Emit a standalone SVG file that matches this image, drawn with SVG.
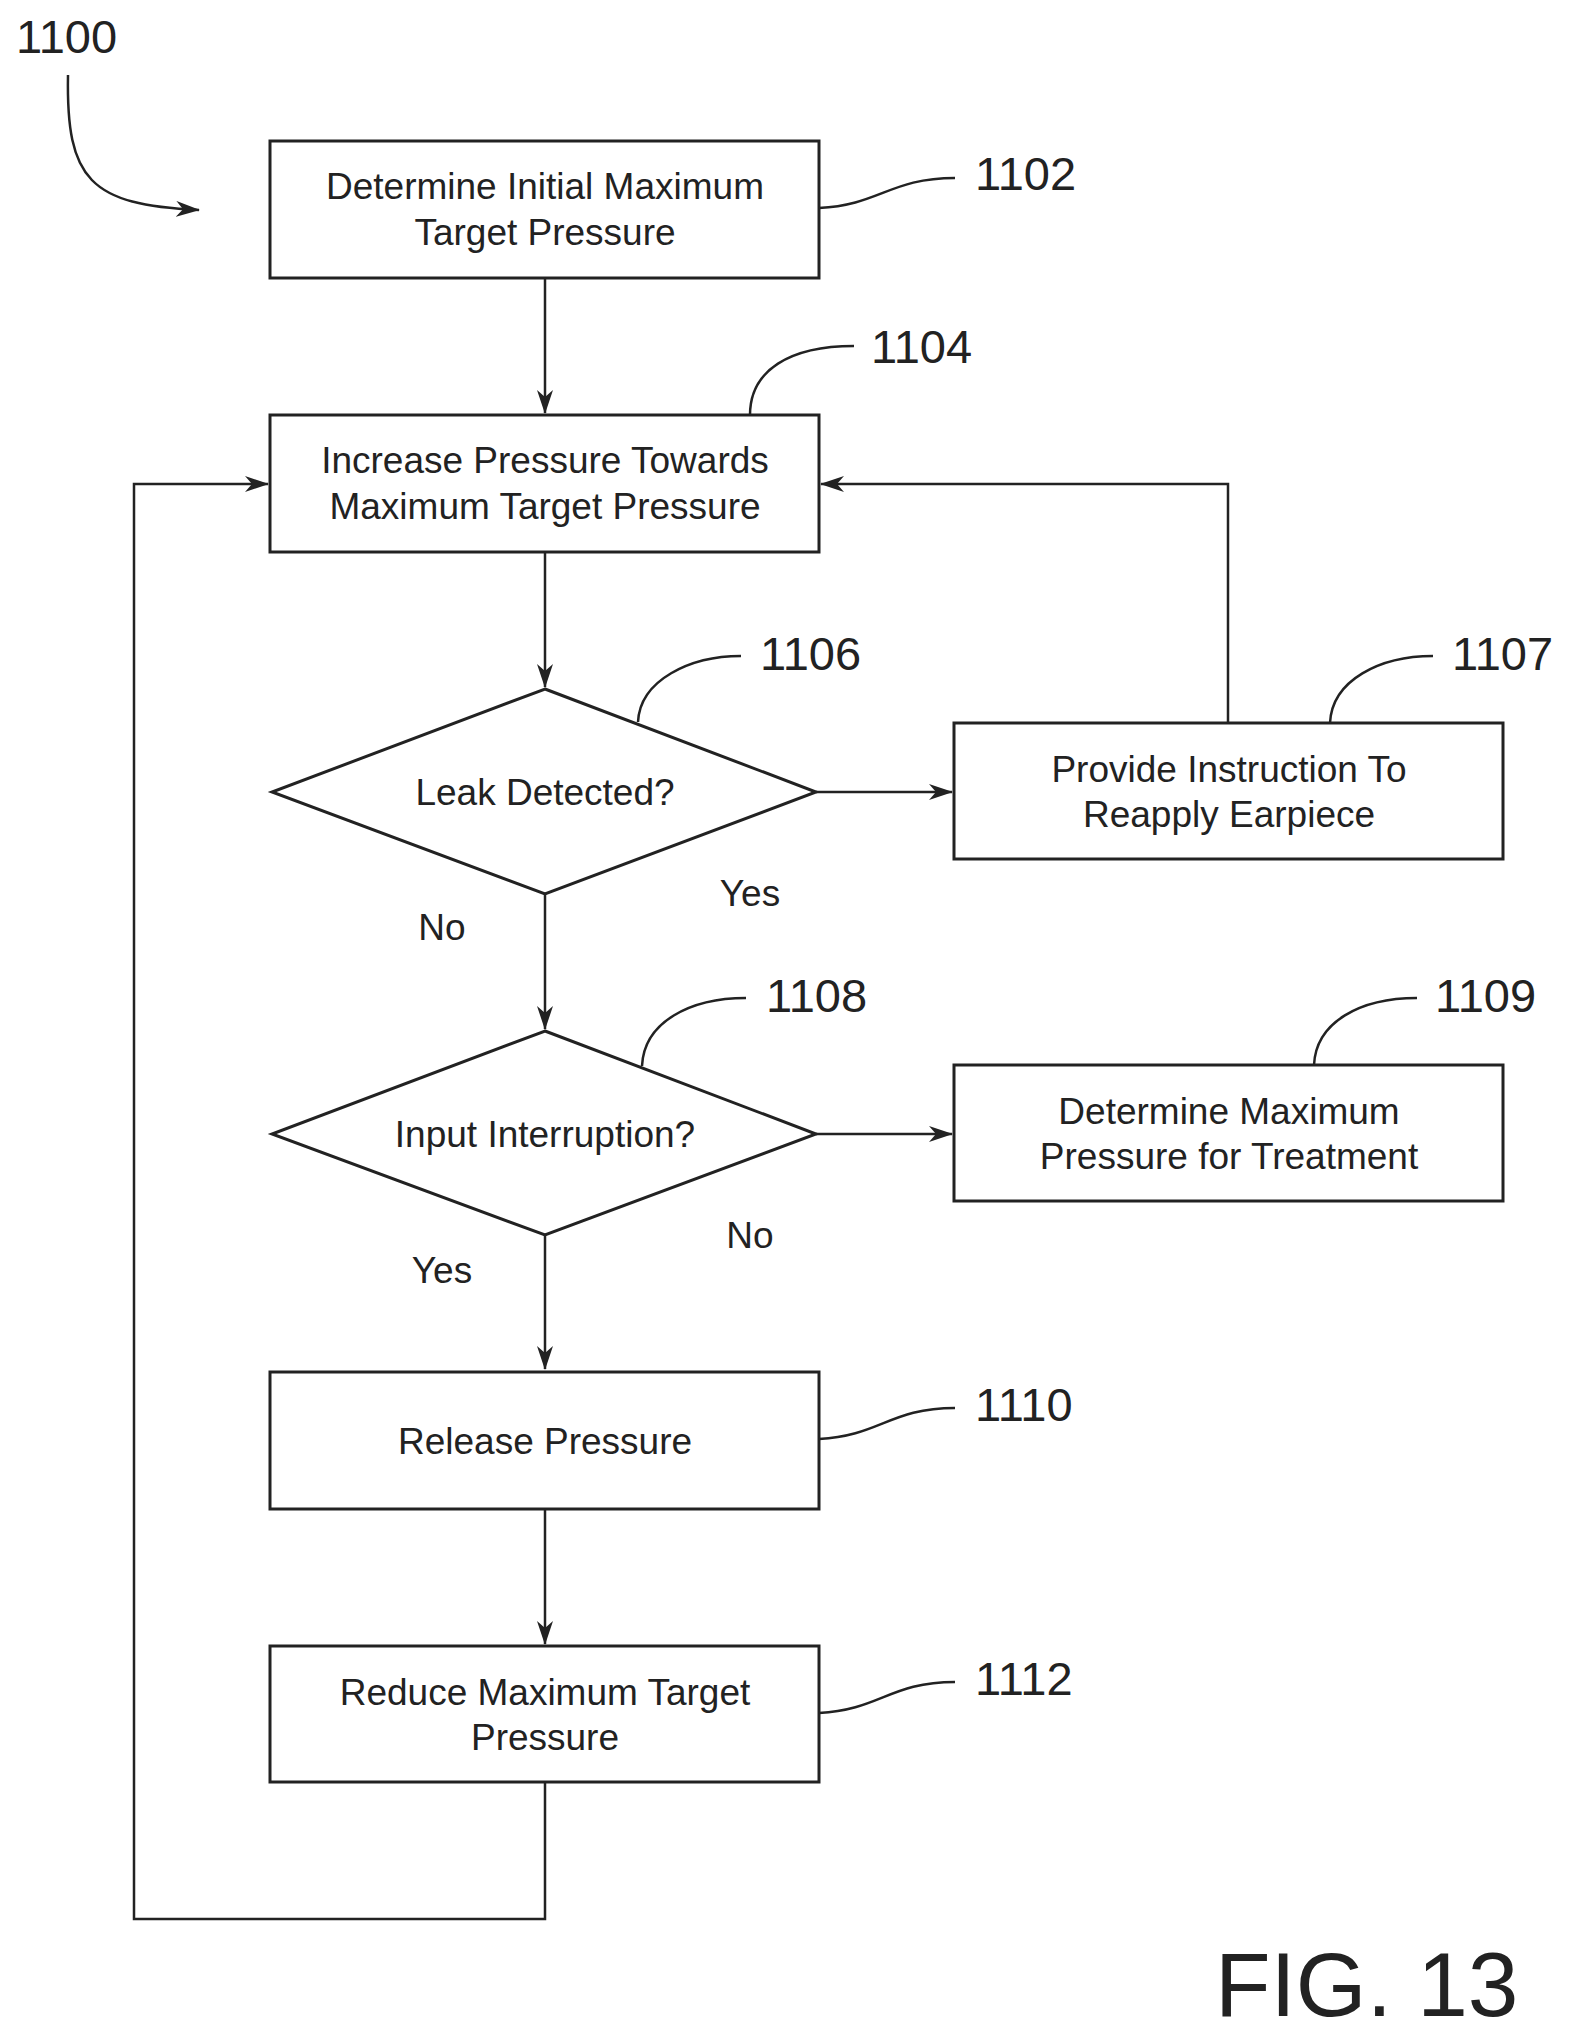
<svg xmlns="http://www.w3.org/2000/svg" width="1574" height="2041" viewBox="0 0 1574 2041">
<defs>
<marker id="ah" viewBox="0 0 24 16" refX="23" refY="8" markerWidth="24" markerHeight="16" markerUnits="userSpaceOnUse" orient="auto">
<path d="M0,0 L24,8 L0,16 L7,8 Z" fill="#222"/>
</marker>
</defs>
<style>
.n{fill:#fff;stroke:#222;stroke-width:3}
.t{font-family:"Liberation Sans",Arial,sans-serif;font-size:37px;fill:#222;text-anchor:middle}
.r{font-family:"Liberation Sans",Arial,sans-serif;font-size:47px;fill:#222}
.c{fill:none;stroke:#222;stroke-width:2.5}
</style>
<rect width="1574" height="2041" fill="#fff"/>
<g id="connectors">
<path class="c" d="M545,278 V413" marker-end="url(#ah)"/>
<path class="c" d="M545,552 V687" marker-end="url(#ah)"/>
<path class="c" d="M816,792 H952" marker-end="url(#ah)"/>
<path class="c" d="M1228,723 V484 H821" marker-end="url(#ah)"/>
<path class="c" d="M545,894 V1029" marker-end="url(#ah)"/>
<path class="c" d="M816,1134 H952" marker-end="url(#ah)"/>
<path class="c" d="M545,1235 V1369" marker-end="url(#ah)"/>
<path class="c" d="M545,1509 V1644" marker-end="url(#ah)"/>
<path class="c" d="M545,1782 V1919 H134 V484 H268" marker-end="url(#ah)"/>
<path class="c" d="M68,75 C66,180 90,205 199,210" marker-end="url(#ah)"/>
<path class="c" d="M819,208 C880,205 890,178 955,178"/>
<path class="c" d="M750,415 C750,370 790,346 854,346"/>
<path class="c" d="M638,722 C640,680 690,656 741,656"/>
<path class="c" d="M1330,723 C1332,680 1380,656 1433,656"/>
<path class="c" d="M642,1066 C644,1022 690,998 746,998"/>
<path class="c" d="M1314,1065 C1316,1022 1360,998 1417,998"/>
<path class="c" d="M819,1439 C880,1436 890,1408 955,1408"/>
<path class="c" d="M819,1713 C880,1710 890,1682 955,1682"/>
</g>
<g id="n1102"><rect class="n" x="270" y="141" width="549" height="137"/><text class="t" x="545" y="199">Determine Initial Maximum</text><text class="t" x="545" y="245">Target Pressure</text></g>
<g id="n1104"><rect class="n" x="270" y="415" width="549" height="137"/><text class="t" x="545" y="473">Increase Pressure Towards</text><text class="t" x="545" y="519">Maximum Target Pressure</text></g>
<g id="n1106"><polygon class="n" points="545,689 816,792 545,894 272,792"/><text class="t" x="545" y="805">Leak Detected?</text></g>
<g id="n1107"><rect class="n" x="954" y="723" width="549" height="136"/><text class="t" x="1229" y="782">Provide Instruction To</text><text class="t" x="1229" y="827">Reapply Earpiece</text></g>
<g id="n1108"><polygon class="n" points="545,1031 816,1134 545,1235 272,1134"/><text class="t" x="545" y="1147">Input Interruption?</text></g>
<g id="n1109"><rect class="n" x="954" y="1065" width="549" height="136"/><text class="t" x="1229" y="1124">Determine Maximum</text><text class="t" x="1229" y="1169">Pressure for Treatment</text></g>
<g id="n1110"><rect class="n" x="270" y="1372" width="549" height="137"/><text class="t" x="545" y="1454">Release Pressure</text></g>
<g id="n1112"><rect class="n" x="270" y="1646" width="549" height="136"/><text class="t" x="545" y="1705">Reduce Maximum Target</text><text class="t" x="545" y="1750">Pressure</text></g>
<g id="labels">
<text class="r" x="16" y="53">1100</text>
<text class="r" x="975" y="190">1102</text>
<text class="r" x="871" y="363">1104</text>
<text class="r" x="760" y="670">1106</text>
<text class="r" x="1452" y="670">1107</text>
<text class="r" x="766" y="1012">1108</text>
<text class="r" x="1435" y="1012">1109</text>
<text class="r" x="975" y="1421">1110</text>
<text class="r" x="975" y="1695">1112</text>
<text class="t" x="750" y="906">Yes</text>
<text class="t" x="442" y="940">No</text>
<text class="t" x="442" y="1283">Yes</text>
<text class="t" x="750" y="1248">No</text>
<text x="1215" y="2016" style="font-family:'Liberation Sans',Arial,sans-serif;font-size:91px;fill:#222">FIG. 13</text>
</g>
</svg>
